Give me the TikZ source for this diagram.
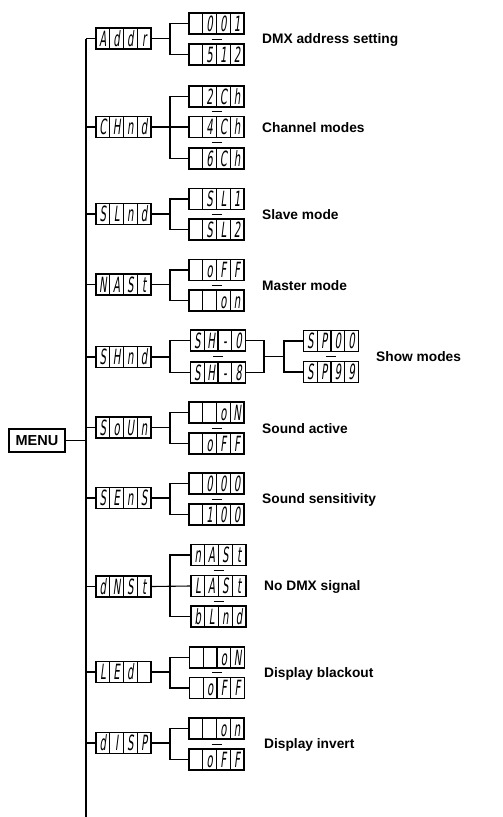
\documentclass[tikz,border=0pt]{standalone}
\usepackage{fontspec}
\setmainfont{Liberation Sans}
\newfontfamily\segfont{DejaVu Sans}[FakeStretch=0.48,FakeSlant=0.12]
\usepackage{tikz}
\usetikzlibrary{positioning,calc}

% four cells of a display
\newcommand{\segs}[4]{\makebox[13.75pt]{#1}\makebox[13.75pt]{#2}\makebox[13.75pt]{#3}\makebox[13.75pt]{#4}\rule[-3pt]{0pt}{21pt}}

\tikzset{
    disp/.style={draw, line width=1.1pt, minimum width=55pt, minimum height=21pt, inner sep=0pt,
        font=\segfont\fontsize{21}{21}\selectfont,
        path picture={\foreach \k in {1,2,3}
            \draw[line width=1.1pt] ($(path picture bounding box.north west)!\k/4!(path picture bounding box.north east)$)
                -- ($(path picture bounding box.south west)!\k/4!(path picture bounding box.south east)$);}},
    lbl/.style={anchor=west, inner sep=0pt, font=\bfseries\fontsize{13.75}{14}\selectfont},
    link/.style={line width=1.1pt},
    sepdash/.style={line width=0.9pt}
}

\begin{document}
\begin{tikzpicture}[x=1pt, y=-1pt]
    \useasboundingbox (0,0) rectangle (503,817);

    % Trunk and forks
    \coordinate (trunk) at (86,0);
    \coordinate (fork) at (170,0);
    \coordinate (tend) at (86,817);

    % Menu
    \node[draw, line width=1.1pt, minimum width=56pt, minimum height=23pt, inner sep=0pt,
        font=\bfseries\fontsize{14.5}{15}\selectfont] (menu) at (37,440.5) {MENU};

    % Main entries
    \node[disp] (addr) at (123.5,38.5) {\segs{A}{d}{d}{r}};
    \node[disp] (chnd) at (123.5,127) {\segs{C}{H}{n}{d}};
    \node[disp] (slnd) at (123.5,214) {\segs{S}{L}{n}{d}};
    \node[disp] (nast) at (123.5,284.5) {\segs{N}{A}{S}{t}};
    \node[disp] (shnd) at (123.5,357) {\segs{S}{H}{n}{d}};
    \node[disp] (soun) at (123.5,427.5) {\segs{S}{o}{U}{n}};
    \node[disp] (sens) at (123.5,498) {\segs{S}{E}{n}{S}};
    \node[disp] (dnst) at (123.5,586.5) {\segs{d}{N}{S}{t}};
    \node[disp] (led)  at (123.5,672) {\segs{L}{E}{d}{}};
    \node[disp] (disp) at (123.5,743) {\segs{d}{I}{S}{P}};

    % DMX address
    \node[disp] (a1) at (216.5,23.5) {\segs{}{0}{0}{1}};
    \node[disp] (a2) at (216.5,54.5) {\segs{}{5}{1}{2}};
    \node[lbl] at (262,39.5) {DMX address setting};

    % Channel modes
    \node[disp] (c1) at (216.5,96.5) {\segs{}{2}{C}{h}};
    \node[disp] (c2) at (216.5,127) {\segs{}{4}{C}{h}};
    \node[disp] (c3) at (216.5,158.5) {\segs{}{6}{C}{h}};
    \node[lbl] at (262,127.5) {Channel modes};

    % Slave mode
    \node[disp] (l1) at (216.5,199) {\segs{}{S}{L}{1}};
    \node[disp] (l2) at (216.5,229.5) {\segs{}{S}{L}{2}};
    \node[lbl] at (262,214.5) {Slave mode};

    % Master mode
    \node[disp] (m1) at (216.5,270) {\segs{}{o}{F}{F}};
    \node[disp] (m2) at (216.5,300.5) {\segs{}{}{o}{n}};
    \node[lbl] at (262,285.5) {Master mode};

    % Show modes
    \node[disp] (h1) at (218,340.5) {\segs{S}{H}{-}{0}};
    \node[disp] (h2) at (218,372.5) {\segs{S}{H}{-}{8}};
    \node[disp] (p1) at (331,341) {\segs{S}{P}{0}{0}};
    \node[disp] (p2) at (331,372) {\segs{S}{P}{9}{9}};
    \node[lbl] at (376,357) {Show modes};

    % Sound active
    \node[disp] (o1) at (216.5,412.5) {\segs{}{}{o}{N}};
    \node[disp] (o2) at (216.5,443.5) {\segs{}{o}{F}{F}};
    \node[lbl] at (262,428.5) {Sound active};

    % Sound sensitivity
    \node[disp] (e1) at (216.5,483.5) {\segs{}{0}{0}{0}};
    \node[disp] (e2) at (216.5,514.5) {\segs{}{1}{0}{0}};
    \node[lbl] at (262,499.5) {Sound sensitivity};

    % No DMX signal
    \node[disp] (n1) at (218.5,555) {\segs{n}{A}{S}{t}};
    \node[disp] (n2) at (218.5,586) {\segs{L}{A}{S}{t}};
    \node[disp] (n3) at (218.5,616.5) {\segs{b}{L}{n}{d}};
    \node[lbl] at (264,587) {No DMX signal};

    % Display blackout
    \node[disp] (d1) at (217,657.5) {\segs{}{}{o}{N}};
    \node[disp] (d2) at (217,688) {\segs{}{o}{F}{F}};
    \node[lbl] at (264,673.5) {Display blackout};

    % Display invert
    \node[disp] (i1) at (216.5,728.5) {\segs{}{}{o}{n}};
    \node[disp] (i2) at (216.5,759.5) {\segs{}{o}{F}{F}};
    \node[lbl] at (264,745) {Display invert};

    % Trunk
    \draw[link] (addr.west -| trunk) -- (tend);
    \draw[link] (menu.east) -- (menu.east -| trunk);
    \foreach \n in {addr,chnd,slnd,nast,shnd,soun,sens,dnst,led,disp}
        \draw[link] (\n.west) -- (\n.west -| trunk);

    % Forks to the settings
    \foreach \n/\a/\b in {addr/a1/a2,slnd/l1/l2,nast/m1/m2,shnd/h1/h2,soun/o1/o2,sens/e1/e2,led/d1/d2,disp/i1/i2}{
        \draw[link] (\n.east) -- (\n.east -| fork);
        \draw[link] (\a.west) -- (\a.west -| fork) -- (\b.west -| fork) -- (\b.west);
    }
    \draw[link] (chnd.east) -- (c2.west);
    \draw[link] (c1.west) -- (c1.west -| fork) -- (c3.west -| fork) -- (c3.west);
    \draw[link] (dnst.east) -- (n2.west);
    \draw[link] (n1.west) -- (n1.west -| fork) -- (n3.west -| fork) -- (n3.west);

    % Show modes second fork
    \coordinate (fork2) at (264,0);
    \coordinate (fork3) at (284,0);
    \draw[link] (h1.east) -- (h1.east -| fork2) -- (h2.east -| fork2) -- (h2.east);
    \draw[link] ($(h1.east -| fork2)!0.5!(h2.east -| fork2)$) -- ($(p1.west -| fork3)!0.5!(p2.west -| fork3)$);
    \draw[link] (p1.west) -- (p1.west -| fork3) -- (p2.west -| fork3) -- (p2.west);

    % Range marks
    \foreach \a/\b in {a1/a2,c1/c2,c2/c3,l1/l2,m1/m2,h1/h2,p1/p2,o1/o2,e1/e2,n1/n2,n2/n3,d1/d2,i1/i2}
        \draw[sepdash] ($(\a.south)!0.5!(\b.north)$) +(-5,0) -- +(5,0);

\end{tikzpicture}
\end{document}
